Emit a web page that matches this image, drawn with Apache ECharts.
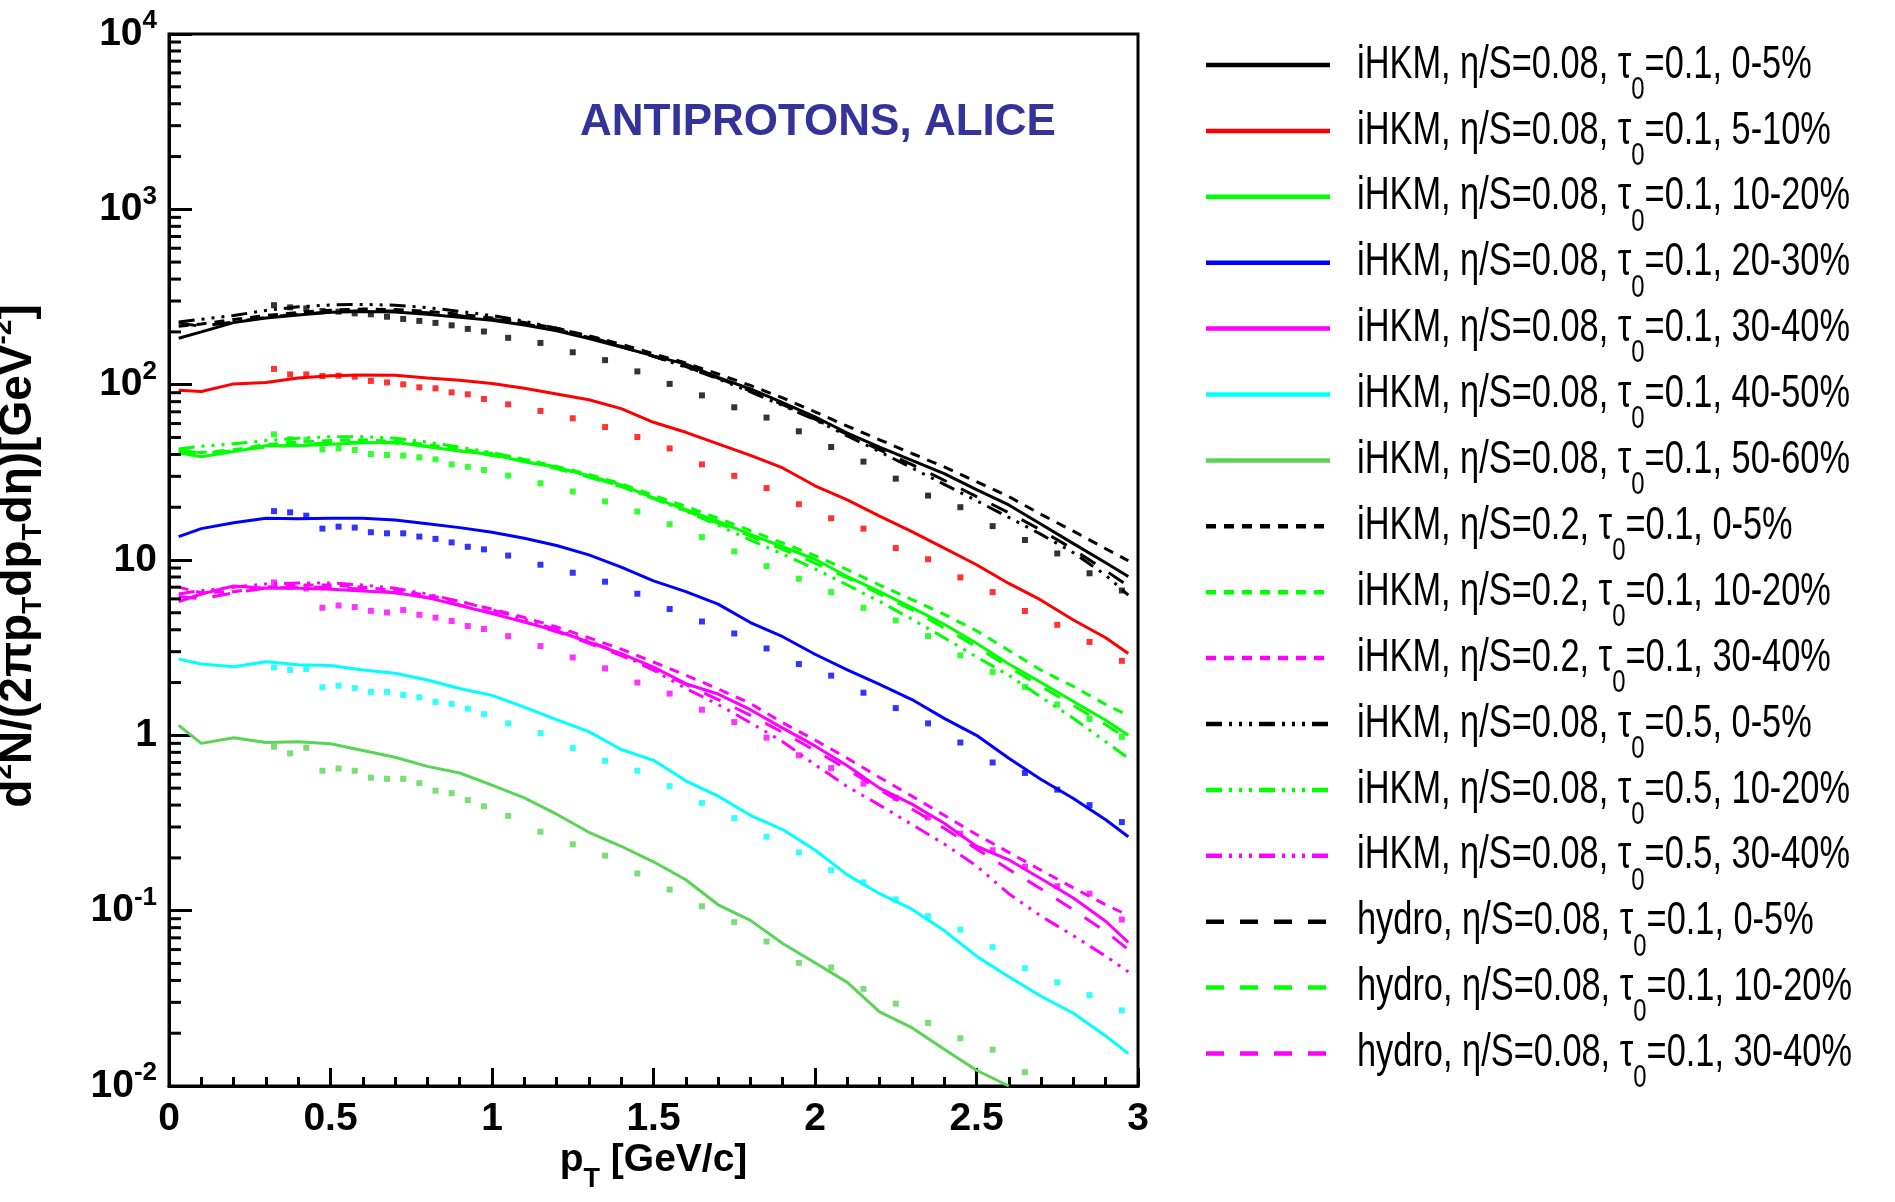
<!DOCTYPE html>
<html><head><meta charset="utf-8">
<script src="https://cdn.jsdelivr.net/npm/echarts@6/dist/echarts.min.js"></script>
<style>html,body{margin:0;padding:0;background:#fff}#c{width:1895px;height:1202px}</style>
</head><body><div id="c"></div>
<script>
// ---------- data ----------
const dataPt = [0.325,0.375,0.425,0.475,0.525,0.575,0.625,0.675,0.725,0.775,0.825,0.875,0.925,0.975,1.05,1.15,1.25,1.35,1.45,1.55,1.65,1.75,1.85,1.95,2.05,2.15,2.25,2.35,2.45,2.55,2.65,2.75,2.85,2.95];
const alice_0_5   = [284,276,272,263,261,255,252,244,237,231,225,218,208,201,185,173,153,138,119,101,86.9,74.3,64.9,54.2,44.1,36.4,29.1,23.3,20.0,15.6,13.0,10.9,8.4,6.7];
const alice_5_10  = [123,114.5,114.5,112,112.5,111,105,103,100.4,96.6,95.3,90.4,88.1,82.8,77.2,70.8,64.3,57.3,50.3,43.3,35.1,30.2,25.7,20.8,17.3,15.1,11.7,10.1,7.96,6.56,5.12,4.27,3.41,2.66];
const alice_10_20 = [52.1,48.9,48.3,42.7,43.3,42.4,40.2,39.7,39.4,38.5,37.5,35.1,34.0,32.6,30.3,27.4,24.6,21.6,18.9,16.0,13.5,11.2,9.23,7.82,6.56,5.34,4.52,3.68,2.86,2.30,1.89,1.50,1.24,0.98];
const alice_20_30 = [19.0,18.7,17.9,15.1,15.5,15.3,14.4,14.2,14.2,13.6,13.2,12.6,11.9,11.5,10.6,9.4,8.46,7.52,6.42,5.25,4.46,3.81,3.13,2.55,2.19,1.75,1.43,1.17,0.91,0.70,0.61,0.49,0.40,0.32];
const alice_30_40 = [7.45,7.03,6.88,5.34,5.50,5.39,5.13,5.02,5.18,4.87,4.69,4.49,4.20,4.04,3.68,3.23,2.78,2.41,2.00,1.73,1.40,1.19,0.97,0.77,0.65,0.53,0.44,0.34,0.275,0.221,0.178,0.138,0.125,0.089];
const alice_40_50 = [2.44,2.36,2.39,1.88,1.92,1.86,1.77,1.77,1.70,1.65,1.55,1.51,1.42,1.32,1.17,1.03,0.846,0.716,0.628,0.513,0.412,0.337,0.264,0.215,0.170,0.145,0.116,0.093,0.078,0.062,0.047,0.039,0.033,0.027];
const alice_50_60 = [0.861,0.789,0.849,0.628,0.647,0.628,0.573,0.565,0.565,0.534,0.483,0.468,0.427,0.394,0.347,0.282,0.239,0.206,0.163,0.132,0.106,0.086,0.0667,0.0504,0.0474,0.0358,0.0295,0.0229,0.0187,0.0161,0.0120];

const curvePt = [0.03,0.1,0.2,0.3,0.4,0.5,0.6,0.7,0.8,0.9,1.0,1.1,1.2,1.3,1.4,1.5,1.6,1.7,1.8,1.9,2.0,2.1,2.2,2.3,2.4,2.5,2.6,2.7,2.8,2.9,2.97];
const ihkm008_0_5   = [184,200,226,240,250,259,261,260,252,242,233,219,203,183,164,146,131,110,94.5,79,65.5,53,44,37,31.1,25.2,20.6,16.0,12.4,9.65,8.05];
const ihkm008_5_10  = [93,91.5,101,103,109,112.5,113.5,113,109,106,101.5,95.5,88.5,82,73,61,53.5,46,39.5,33.5,26.5,22,17.8,14.5,11.7,9.4,7.35,5.9,4.55,3.6,2.93];
const ihkm008_10_20 = [40.9,38.8,41.5,44.8,44.8,45.8,46.7,47,44.3,41.9,40,36.5,33.7,30.3,26.8,22.6,19.4,16.6,14,11.9,10.1,8.05,6.6,5.35,4.3,3.35,2.55,2.0,1.56,1.22,1.0];
const ihkm008_20_30 = [13.6,15.1,16.3,17.3,17.2,17.3,17.3,16.9,16.1,15.3,14.4,13.3,12.1,10.7,9.1,7.6,6.6,5.6,4.4,3.65,2.9,2.36,1.95,1.6,1.25,1.0,0.74,0.56,0.436,0.33,0.264];
const ihkm008_30_40 = [5.8,6.4,7.1,6.9,6.9,6.8,6.65,6.5,6.1,5.5,4.95,4.42,3.95,3.4,2.92,2.45,1.97,1.72,1.4,1.1,0.87,0.67,0.5,0.405,0.315,0.233,0.195,0.152,0.118,0.087,0.066];
const ihkm008_40_50 = [2.72,2.55,2.46,2.63,2.53,2.5,2.36,2.26,2.07,1.85,1.69,1.45,1.23,1.05,0.83,0.72,0.55,0.45,0.35,0.29,0.222,0.16,0.125,0.102,0.077,0.055,0.042,0.0325,0.026,0.0193,0.0153];
const ihkm008_50_60 = [1.14,0.9,0.97,0.91,0.92,0.895,0.82,0.75,0.665,0.61,0.52,0.44,0.355,0.28,0.233,0.19,0.15,0.108,0.088,0.065,0.0505,0.039,0.0265,0.0215,0.0162,0.0123,0.0100,null,null,null,null];
const ihkm02_0_5    = [215,222,235,248,258,266,270,268,262,252,240,226,210,190,170,150,133,115,99,84,70,58,48.5,40.5,34,28,23,18.2,14.6,11.6,9.9];
const ihkm02_10_20  = [41.5,41,42.5,45.5,47,48,48.5,47.5,45.5,43,40.5,37.5,34.2,30.8,27.2,23.4,20.2,17.3,14.7,12.5,10.6,8.8,7.2,5.95,4.9,3.95,3.05,2.35,1.9,1.5,1.3];
const ihkm02_30_40  = [7.0,6.5,6.6,7.0,7.2,7.2,7.0,6.7,6.3,5.8,5.25,4.7,4.15,3.6,3.1,2.62,2.2,1.84,1.52,1.18,0.94,0.74,0.575,0.45,0.35,0.272,0.215,0.17,0.135,0.108,0.094];
const tau05_0_5     = [228,236,248,265,278,285,287,284,275,262,248,230,210,188,166,145,126,108,91,76,63,51,41.5,33.5,27,21.8,17.5,14.0,11.0,8.2,6.3];
const tau05_10_20   = [43,44.5,46,48,49.5,50.5,50.5,49.5,47,44,41,37.5,33.8,30,26.3,22.5,19,15.8,13,10.8,8.9,7.2,5.8,4.6,3.6,2.8,2.2,1.65,1.25,0.92,0.74];
const tau05_30_40   = [6.4,6.7,7.0,7.3,7.4,7.4,7.2,6.9,6.4,5.8,5.2,4.6,4.0,3.45,2.9,2.35,1.85,1.5,1.18,0.92,0.68,0.51,0.4,0.31,0.24,0.18,0.125,0.093,0.072,0.055,0.0448];
const hydro_0_5     = [225,215,228,242,252,260,264,263,257,247,236,222,206,186,165,145,127,109,92,77,63.5,52,42.5,35,28.5,23,18.6,14.8,11.5,8.7,7.1];
const hydro_10_20   = [42.5,40.5,42,44,45.5,46.5,47,46.5,44.5,42,39.5,36.5,33.2,29.7,26.2,22.4,19.1,16.2,13.7,11.5,9.6,7.9,6.4,5.2,4.1,3.2,2.45,1.9,1.48,1.15,0.95];
const hydro_30_40   = [6.2,6.0,6.5,6.9,7.0,7.0,6.8,6.5,6.1,5.55,5.0,4.45,3.9,3.35,2.85,2.38,1.95,1.6,1.3,1.04,0.82,0.64,0.49,0.38,0.295,0.225,0.172,0.133,0.101,0.076,0.06];

const yMinorTicks = [];
[0.01,0.1,1,10,100,1000].forEach(d => { for (let k = 2; k <= 9; k++) yMinorTicks.push(+(d * k).toPrecision(3)); });

// ---------- styles ----------
const FB = "'Liberation Sans',Arial,Helvetica,sans-serif";
const C = {k:'#000000', r:'#ff0000', g:'#00ff00', b:'#0000ff', m:'#ff00ff', c:'#00ffff', g2:'#59d454'};
const DASH_02 = [10, 8];
const DASH_TAU = [16, 7, 3, 7, 3, 7, 3, 7];
const DASH_HYDRO = [18, 16];

const pairs = (xs, ys) => xs.map((x, i) => [x, ys[i] == null ? null : ys[i]]);
function line(name, color, values, dash) {
  return { name, type: 'line', data: pairs(curvePt, values), symbol: 'none', silent: true,
    lineStyle: { color, width: 3, type: dash || 'solid' }, itemStyle: { color }, z: dash ? 2 : 3 };
}
function pts(color, values) {
  return { type: 'scatter', data: dataPt.map((x, i) => [x, values[i]]).filter(d => d[1] != null),
    symbol: 'rect', symbolSize: 6, itemStyle: { color }, silent: true, z: 4 };
}

const N = {
  s1: 'iHKM, η/S=0.08, τ0=0.1, 0-5%', s2: 'iHKM, η/S=0.08, τ0=0.1, 5-10%', s3: 'iHKM, η/S=0.08, τ0=0.1, 10-20%',
  s4: 'iHKM, η/S=0.08, τ0=0.1, 20-30%', s5: 'iHKM, η/S=0.08, τ0=0.1, 30-40%', s6: 'iHKM, η/S=0.08, τ0=0.1, 40-50%',
  s7: 'iHKM, η/S=0.08, τ0=0.1, 50-60%',
  d1: 'iHKM, η/S=0.2, τ0=0.1, 0-5%', d2: 'iHKM, η/S=0.2, τ0=0.1, 10-20%', d3: 'iHKM, η/S=0.2, τ0=0.1, 30-40%',
  t1: 'iHKM, η/S=0.08, τ0=0.5, 0-5%', t2: 'iHKM, η/S=0.08, τ0=0.5, 10-20%', t3: 'iHKM, η/S=0.08, τ0=0.5, 30-40%',
  h1: 'hydro, η/S=0.08, τ0=0.1, 0-5%', h2: 'hydro, η/S=0.08, τ0=0.1, 10-20%', h3: 'hydro, η/S=0.08, τ0=0.1, 30-40%'
};

const series = [
  line(N.d1, C.k, ihkm02_0_5, DASH_02), line(N.d2, C.g, ihkm02_10_20, DASH_02), line(N.d3, C.m, ihkm02_30_40, DASH_02),
  line(N.t1, C.k, tau05_0_5, DASH_TAU), line(N.t2, C.g, tau05_10_20, DASH_TAU), line(N.t3, C.m, tau05_30_40, DASH_TAU),
  line(N.h1, C.k, hydro_0_5, DASH_HYDRO), line(N.h2, C.g, hydro_10_20, DASH_HYDRO), line(N.h3, C.m, hydro_30_40, DASH_HYDRO),
  line(N.s1, C.k, ihkm008_0_5), line(N.s2, C.r, ihkm008_5_10), line(N.s3, C.g, ihkm008_10_20),
  line(N.s4, C.b, ihkm008_20_30), line(N.s5, C.m, ihkm008_30_40), line(N.s6, C.c, ihkm008_40_50),
  line(N.s7, C.g2, ihkm008_50_60),
  pts(C.k, alice_0_5), pts(C.r, alice_5_10), pts(C.g, alice_10_20), pts(C.b, alice_20_30),
  pts(C.m, alice_30_40), pts(C.c, alice_40_50), pts(C.g2, alice_50_60),
  { type: 'custom', silent: true, clip: false, z: 6,
    data: yMinorTicks.map(v => [0, v]), encode: { x: 0, y: 1 },
    renderItem: (params, api) => {
      const p = api.coord([api.value(0), api.value(1)]);
      return { type: 'line', shape: { x1: p[0], y1: p[1], x2: p[0] + 12, y2: p[1] },
        style: { stroke: '#000', lineWidth: 3 } };
    } }
];

// ---------- legend (drawn with graphic so text can be condensed like the original) ----------
const legendRows = [
  [N.s1, C.k, null], [N.s2, C.r, null], [N.s3, C.g, null], [N.s4, C.b, null], [N.s5, C.m, null],
  [N.s6, C.c, null], [N.s7, C.g2, null],
  [N.d1, C.k, DASH_02], [N.d2, C.g, DASH_02], [N.d3, C.m, DASH_02],
  [N.t1, C.k, DASH_TAU], [N.t2, C.g, DASH_TAU], [N.t3, C.m, DASH_TAU],
  [N.h1, C.k, DASH_HYDRO], [N.h2, C.g, DASH_HYDRO], [N.h3, C.m, DASH_HYDRO]
];
const LF = 46, LSUB = 32;
const mctx = document.createElement('canvas').getContext('2d');
const mw = (size, s) => { mctx.font = size + 'px ' + FB; return mctx.measureText(s).width; };
const LSCALE = 493 / (mw(LF, 'iHKM, η/S=0.08, τ') + mw(LSUB, '0') + mw(LF, '=0.1, 10-20%'));
const legendRich = {
  n: { fontFamily: FB, fontSize: LF, fill: '#000' },
  s: { fontFamily: FB, fontSize: LSUB, fill: '#000', padding: [50, 0, 0, 0] }
};
const legendGraphics = [];
legendRows.forEach((r, i) => {
  const y = 65 + 65.9 * i;
  const k = r[0].indexOf('τ0');
  legendGraphics.push({ type: 'line', silent: true, shape: { x1: 1206, y1: y, x2: 1330, y2: y },
    style: { stroke: r[1], lineWidth: 4.5, lineDash: r[2] } });
  legendGraphics.push({ type: 'text', silent: true, x: 1357, y: y, scaleX: LSCALE,
    style: { text: '{n|' + r[0].slice(0, k) + 'τ}{s|0}{n|' + r[0].slice(k + 2) + '}',
      rich: legendRich, align: 'left', verticalAlign: 'middle', fill: '#000' } });
});
// y-axis title
legendGraphics.push({ type: 'text', silent: true, x: 18, y: 556, rotation: Math.PI / 2,
  style: { text: '{a|d}{p|2}{a|N/(2πp}{s|T}{a|dp}{s|T}{a|dη)[GeV}{p|-2}{a|]}',
    align: 'center', verticalAlign: 'middle',
    rich: {
      a: { fontFamily: FB, fontWeight: 'bold', fontSize: 46, fill: '#000' },
      p: { fontFamily: FB, fontWeight: 'bold', fontSize: 28, fill: '#000', padding: [0, 0, 29, 0] },
      s: { fontFamily: FB, fontWeight: 'bold', fontSize: 28, fill: '#000', padding: [31, 0, 0, 0] } } } });

const chart = echarts.init(document.getElementById('c'), null, { renderer: 'canvas' });
chart.setOption({
  animation: false,
  backgroundColor: '#ffffff',
  title: { text: 'ANTIPROTONS, ALICE', left: 580, top: 101, padding: 0,
    textStyle: { fontFamily: FB, fontWeight: 'bold', fontSize: 44, color: '#333399' } },
  grid: { left: 169, top: 34, right: 757, bottom: 116, show: true, borderColor: '#000', borderWidth: 3,
    containLabel: false, outerBoundsMode: 'none' },
  graphic: legendGraphics,
  xAxis: {
    type: 'value', min: 0, max: 3, interval: 0.5,
    name: '{a|p}{s|T}{a| [GeV/c]}', nameLocation: 'middle', nameGap: 54, nameMoveOverlap: false,
    nameTextStyle: { rich: {
      a: { fontFamily: FB, fontWeight: 'bold', fontSize: 39, color: '#000', lineHeight: 40 },
      s: { fontFamily: FB, fontWeight: 'bold', fontSize: 27, color: '#000', lineHeight: 40, padding: [40, 0, 0, 0] } } },
    axisLine: { show: true, lineStyle: { color: '#000', width: 3 } },
    axisTick: { show: true, inside: true, length: 18, lineStyle: { color: '#000', width: 3 } },
    minorTick: { show: true, splitNumber: 5, length: 9, lineStyle: { color: '#000', width: 3 } },
    splitLine: { show: false }, minorSplitLine: { show: false },
    axisLabel: { margin: 14, fontFamily: FB, fontWeight: 'bold', fontSize: 39, color: '#000',
      formatter: v => String(+v.toFixed(2)) }
  },
  yAxis: {
    type: 'log', logBase: 10, min: 0.01, max: 10000,
    axisLine: { show: true, lineStyle: { color: '#000', width: 3 } },
    axisTick: { show: true, inside: true, length: 23, lineStyle: { color: '#000', width: 3 } },
    minorTick: { show: false }, splitLine: { show: false }, minorSplitLine: { show: false },
    axisLabel: { margin: 12,
      formatter: v => {
        const e = Math.round(Math.log10(v));
        if (e === 0) return '{b|1}';
        if (e === 1) return '{b|10}';
        return '{b|10}{p|' + e + '}';
      },
      rich: {
        b: { fontFamily: FB, fontWeight: 'bold', fontSize: 39, color: '#000', lineHeight: 40 },
        p: { fontFamily: FB, fontWeight: 'bold', fontSize: 26, color: '#000', lineHeight: 40, padding: [0, 0, 26, 0] } } }
  },
  series
});
</script></body></html>
